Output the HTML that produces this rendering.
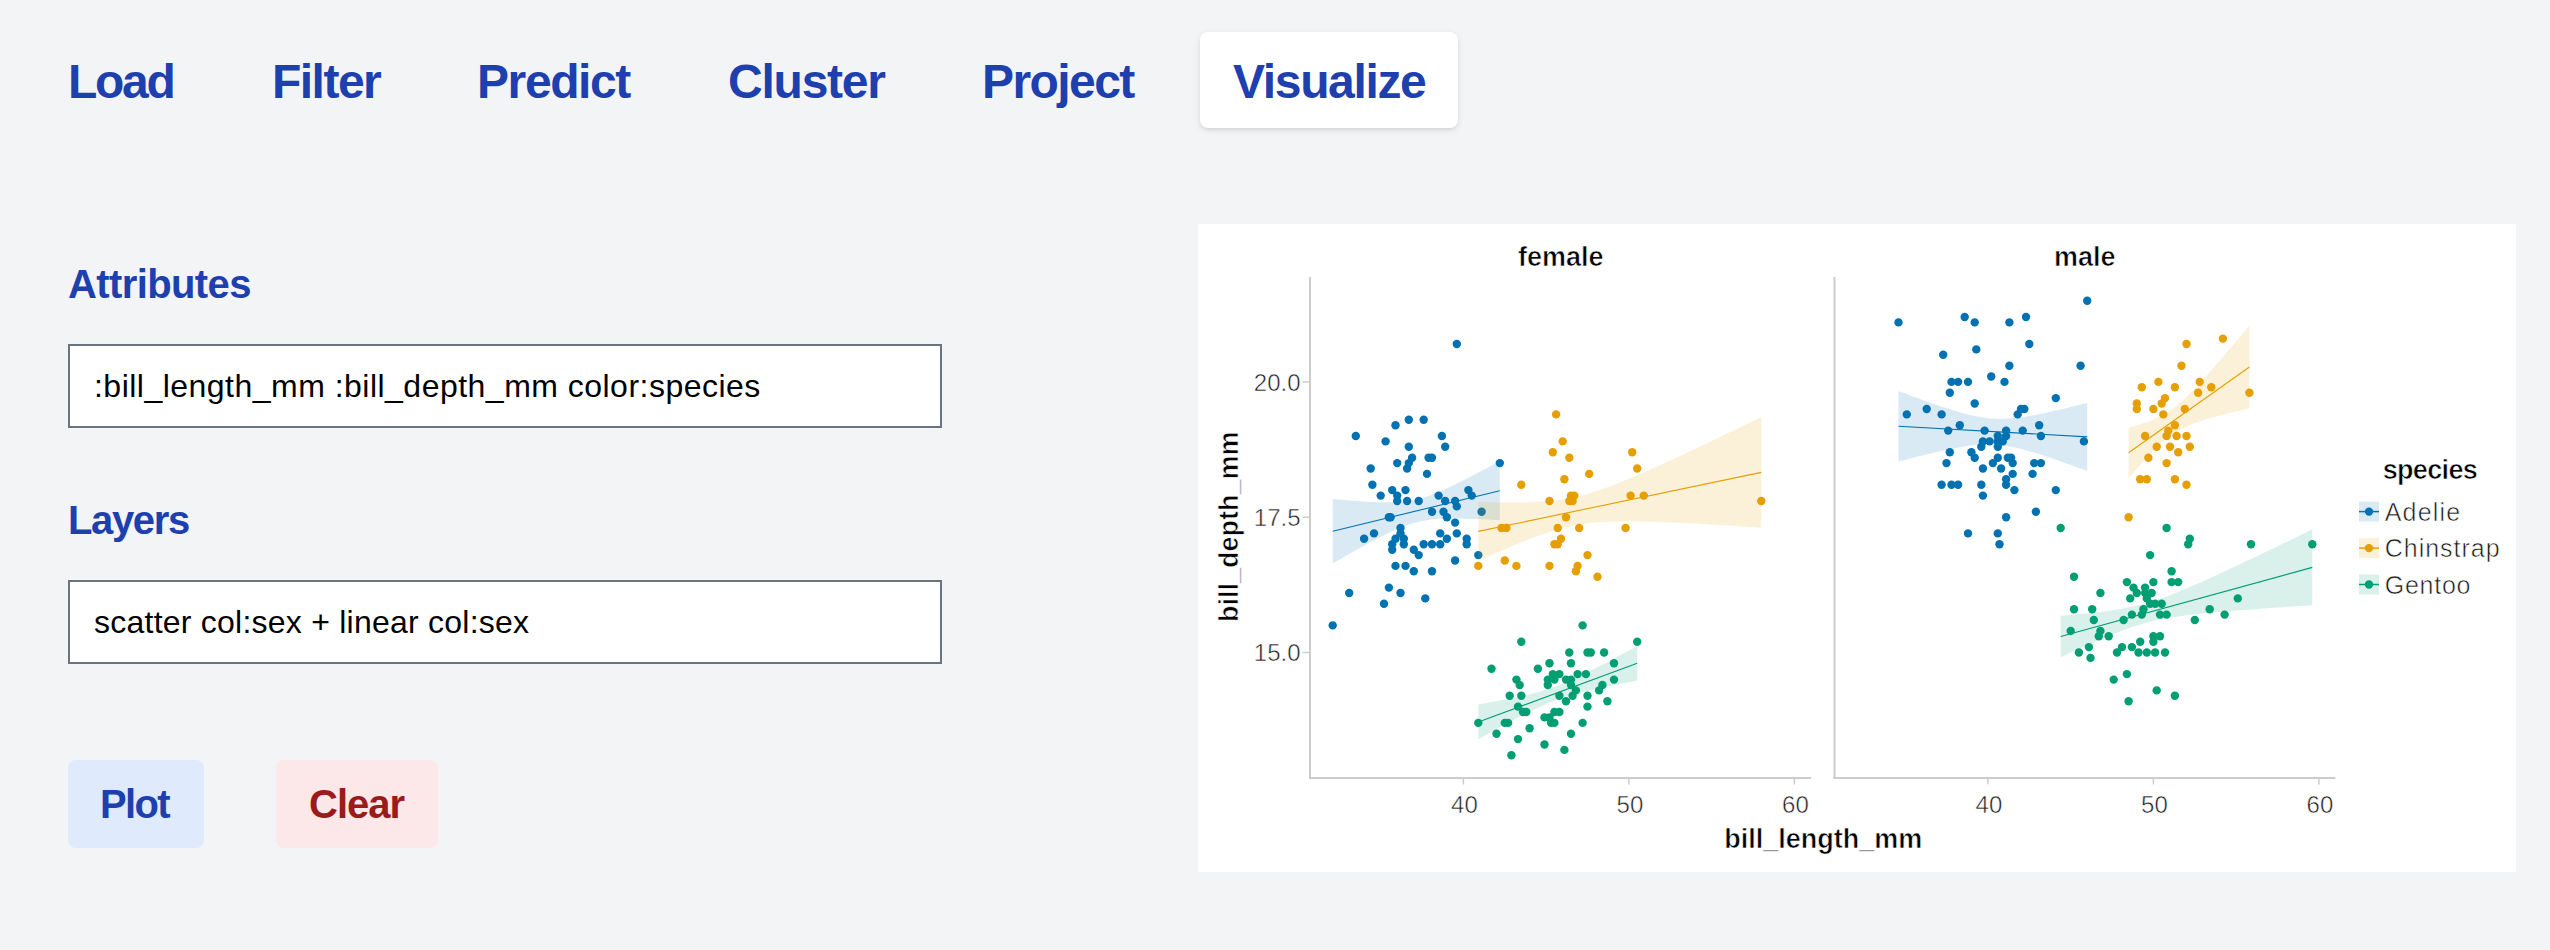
<!DOCTYPE html>
<html><head><meta charset="utf-8">
<style>
html,body{margin:0;padding:0;}
body{width:2550px;height:950px;background:#f3f4f6;position:relative;overflow:hidden;font-family:"Liberation Sans",sans-serif;}
.tab{position:absolute;top:32px;height:96px;font-weight:bold;font-size:48px;line-height:100px;color:#1e40af;white-space:nowrap;}
.tab span{position:absolute;left:0;top:0;}
.active{background:#fff;border-radius:8px;box-shadow:0 2px 6px 0 rgba(0,0,0,0.1),0 2px 4px -2px rgba(0,0,0,0.1);}
.lbl{position:absolute;font-weight:bold;font-size:40px;line-height:48px;color:#1e40af;white-space:nowrap;}
.inp{position:absolute;left:68px;width:870px;height:80px;border:2px solid #6b7280;background:#fff;}
.inp span{position:absolute;left:26px;top:0;font-size:32px;line-height:80px;color:#000;white-space:nowrap;}
.btn{position:absolute;top:760px;height:88px;border-radius:8px;font-weight:bold;font-size:40px;line-height:88px;white-space:nowrap;}
.btn span{position:absolute;top:0;}
#chart{position:absolute;left:1198px;top:224px;width:1318px;height:648px;background:#fff;}
</style></head><body>
<div class="tab" style="left:36px;width:172px"><span style="left:32px;letter-spacing:-2.27px">Load</span></div>
<div class="tab" style="left:240px;width:172px"><span style="left:32px;letter-spacing:-1.52px">Filter</span></div>
<div class="tab" style="left:445px;width:220px"><span style="left:32px;letter-spacing:-1.4px">Predict</span></div>
<div class="tab" style="left:696px;width:220px"><span style="left:32px;letter-spacing:-1.23px">Cluster</span></div>
<div class="tab" style="left:950px;width:220px"><span style="left:32px;letter-spacing:-1.58px">Project</span></div>
<div class="tab active" style="left:1200px;width:258px"><span style="left:33px;letter-spacing:-1.35px">Visualize</span></div>

<div class="lbl" style="left:68px;top:260px;letter-spacing:-0.6px">Attributes</div>
<div class="inp" style="top:344px"><span style="left:24px;letter-spacing:0.48px">:bill_length_mm :bill_depth_mm color:species</span></div>
<div class="lbl" style="left:68px;top:496px;letter-spacing:-1.36px">Layers</div>
<div class="inp" style="top:580px"><span style="left:24px;letter-spacing:0.235px">scatter col:sex + linear col:sex</span></div>

<div class="btn" style="left:68px;width:136px;background:#dfebfc;color:#1e40af"><span style="left:32px;letter-spacing:-1.67px">Plot</span></div>
<div class="btn" style="left:276px;width:162px;background:#fce8e8;color:#991b1b"><span style="left:33px;letter-spacing:-0.97px">Clear</span></div>

<div id="chart"><svg id="plot" width="1318" height="648" viewBox="1198 224 1318 648">
<style>.tk{font-family:"Liberation Sans",sans-serif;font-size:24px;fill:#222;stroke:#fff;stroke-width:0.5px}.ti{font-family:"Liberation Sans",sans-serif;font-size:27px;font-weight:bold;fill:#000;stroke:#fff;stroke-width:0.6px}.lg{font-family:"Liberation Sans",sans-serif;font-size:25px;fill:#1a1a1a;stroke:#fff;stroke-width:0.55px}</style>
<line x1="1310" y1="277" x2="1310" y2="778.9" stroke="#cccccc" stroke-width="2"/>
<line x1="1309" y1="777.9" x2="1811" y2="777.9" stroke="#cccccc" stroke-width="2"/>
<line x1="1834.5" y1="277" x2="1834.5" y2="778.9" stroke="#cccccc" stroke-width="2"/>
<line x1="1833.5" y1="777.9" x2="2335.3" y2="777.9" stroke="#cccccc" stroke-width="2"/>
<line x1="1302.5" y1="381.9" x2="1310" y2="381.9" stroke="#cccccc" stroke-width="1.5"/>
<text x="1300.5" y="390.7" text-anchor="end" class="tk">20.0</text>
<line x1="1302.5" y1="517.2" x2="1310" y2="517.2" stroke="#cccccc" stroke-width="1.5"/>
<text x="1300.5" y="526.0" text-anchor="end" class="tk">17.5</text>
<line x1="1302.5" y1="652.5" x2="1310" y2="652.5" stroke="#cccccc" stroke-width="1.5"/>
<text x="1300.5" y="661.3" text-anchor="end" class="tk">15.0</text>
<line x1="1463.4" y1="778" x2="1463.4" y2="784.5" stroke="#cccccc" stroke-width="1.5"/>
<text x="1464.4" y="812.8" text-anchor="middle" class="tk">40</text>
<line x1="1628.9" y1="778" x2="1628.9" y2="784.5" stroke="#cccccc" stroke-width="1.5"/>
<text x="1629.9" y="812.8" text-anchor="middle" class="tk">50</text>
<line x1="1794.4" y1="778" x2="1794.4" y2="784.5" stroke="#cccccc" stroke-width="1.5"/>
<text x="1795.4" y="812.8" text-anchor="middle" class="tk">60</text>
<line x1="1987.9" y1="778" x2="1987.9" y2="784.5" stroke="#cccccc" stroke-width="1.5"/>
<text x="1988.9" y="812.8" text-anchor="middle" class="tk">40</text>
<line x1="2153.4" y1="778" x2="2153.4" y2="784.5" stroke="#cccccc" stroke-width="1.5"/>
<text x="2154.4" y="812.8" text-anchor="middle" class="tk">50</text>
<line x1="2318.9" y1="778" x2="2318.9" y2="784.5" stroke="#cccccc" stroke-width="1.5"/>
<text x="2319.9" y="812.8" text-anchor="middle" class="tk">60</text>
<text x="1560.7" y="265.6" text-anchor="middle" class="ti">female</text>
<text x="2084.8" y="265.7" text-anchor="middle" class="ti">male</text>
<text x="1823.2" y="848" text-anchor="middle" class="ti">bill_length_mm</text>
<text transform="translate(1238,526.8) rotate(-90)" x="0" y="0" text-anchor="middle" class="ti">bill_depth_mm</text>
<text x="2429.9" y="478.5" text-anchor="middle" class="ti" letter-spacing="-0.65">species</text>
<rect x="2359" y="501.6" width="20" height="20" fill="#0072b2" fill-opacity="0.15"/>
<line x1="2359" y1="511.6" x2="2379" y2="511.6" stroke="#0072b2" stroke-width="1.5"/>
<circle cx="2369" cy="511.6" r="4.2" fill="#0072b2"/>
<text x="2384.7" y="520.6" class="lg" letter-spacing="1.2">Adelie</text>
<rect x="2359" y="538.1" width="20" height="20" fill="#e69f00" fill-opacity="0.15"/>
<line x1="2359" y1="548.1" x2="2379" y2="548.1" stroke="#e69f00" stroke-width="1.5"/>
<circle cx="2369" cy="548.1" r="4.2" fill="#e69f00"/>
<text x="2384.7" y="557.1" class="lg" letter-spacing="1.0">Chinstrap</text>
<rect x="2359" y="574.5" width="20" height="20" fill="#009e73" fill-opacity="0.15"/>
<line x1="2359" y1="584.5" x2="2379" y2="584.5" stroke="#009e73" stroke-width="1.5"/>
<circle cx="2369" cy="584.5" r="4.2" fill="#009e73"/>
<text x="2384.7" y="593.5" class="lg" letter-spacing="0.75">Gentoo</text>
<circle cx="1456.8" cy="344.0" r="4.2" fill="#0072b2"/>
<circle cx="1355.8" cy="436.0" r="4.2" fill="#0072b2"/>
<circle cx="1385.6" cy="441.4" r="4.2" fill="#0072b2"/>
<circle cx="1395.5" cy="425.2" r="4.2" fill="#0072b2"/>
<circle cx="1408.8" cy="419.8" r="4.2" fill="#0072b2"/>
<circle cx="1423.7" cy="419.8" r="4.2" fill="#0072b2"/>
<circle cx="1441.9" cy="436.0" r="4.2" fill="#0072b2"/>
<circle cx="1445.2" cy="446.8" r="4.2" fill="#0072b2"/>
<circle cx="1408.8" cy="446.8" r="4.2" fill="#0072b2"/>
<circle cx="1412.1" cy="457.7" r="4.2" fill="#0072b2"/>
<circle cx="1408.8" cy="463.1" r="4.2" fill="#0072b2"/>
<circle cx="1407.1" cy="468.5" r="4.2" fill="#0072b2"/>
<circle cx="1397.2" cy="463.1" r="4.2" fill="#0072b2"/>
<circle cx="1428.6" cy="457.7" r="4.2" fill="#0072b2"/>
<circle cx="1432.0" cy="457.7" r="4.2" fill="#0072b2"/>
<circle cx="1370.7" cy="468.5" r="4.2" fill="#0072b2"/>
<circle cx="1427.0" cy="473.9" r="4.2" fill="#0072b2"/>
<circle cx="1499.8" cy="463.1" r="4.2" fill="#0072b2"/>
<circle cx="1372.4" cy="484.7" r="4.2" fill="#0072b2"/>
<circle cx="1392.2" cy="490.1" r="4.2" fill="#0072b2"/>
<circle cx="1405.5" cy="490.1" r="4.2" fill="#0072b2"/>
<circle cx="1380.7" cy="495.6" r="4.2" fill="#0072b2"/>
<circle cx="1397.2" cy="495.6" r="4.2" fill="#0072b2"/>
<circle cx="1397.2" cy="501.0" r="4.2" fill="#0072b2"/>
<circle cx="1407.1" cy="501.0" r="4.2" fill="#0072b2"/>
<circle cx="1418.7" cy="501.0" r="4.2" fill="#0072b2"/>
<circle cx="1438.6" cy="495.6" r="4.2" fill="#0072b2"/>
<circle cx="1445.2" cy="501.0" r="4.2" fill="#0072b2"/>
<circle cx="1455.1" cy="501.0" r="4.2" fill="#0072b2"/>
<circle cx="1468.4" cy="490.1" r="4.2" fill="#0072b2"/>
<circle cx="1471.7" cy="495.6" r="4.2" fill="#0072b2"/>
<circle cx="1456.8" cy="506.4" r="4.2" fill="#0072b2"/>
<circle cx="1432.0" cy="511.8" r="4.2" fill="#0072b2"/>
<circle cx="1443.5" cy="511.8" r="4.2" fill="#0072b2"/>
<circle cx="1446.9" cy="517.2" r="4.2" fill="#0072b2"/>
<circle cx="1481.6" cy="511.8" r="4.2" fill="#0072b2"/>
<circle cx="1388.9" cy="517.2" r="4.2" fill="#0072b2"/>
<circle cx="1390.6" cy="517.2" r="4.2" fill="#0072b2"/>
<circle cx="1455.1" cy="522.6" r="4.2" fill="#0072b2"/>
<circle cx="1400.5" cy="528.0" r="4.2" fill="#0072b2"/>
<circle cx="1400.5" cy="533.4" r="4.2" fill="#0072b2"/>
<circle cx="1374.0" cy="533.4" r="4.2" fill="#0072b2"/>
<circle cx="1364.1" cy="538.8" r="4.2" fill="#0072b2"/>
<circle cx="1395.5" cy="538.8" r="4.2" fill="#0072b2"/>
<circle cx="1403.8" cy="538.8" r="4.2" fill="#0072b2"/>
<circle cx="1392.2" cy="544.3" r="4.2" fill="#0072b2"/>
<circle cx="1403.8" cy="544.3" r="4.2" fill="#0072b2"/>
<circle cx="1392.2" cy="549.7" r="4.2" fill="#0072b2"/>
<circle cx="1413.8" cy="549.7" r="4.2" fill="#0072b2"/>
<circle cx="1418.7" cy="555.1" r="4.2" fill="#0072b2"/>
<circle cx="1423.7" cy="544.3" r="4.2" fill="#0072b2"/>
<circle cx="1432.0" cy="544.3" r="4.2" fill="#0072b2"/>
<circle cx="1440.2" cy="544.3" r="4.2" fill="#0072b2"/>
<circle cx="1440.2" cy="533.4" r="4.2" fill="#0072b2"/>
<circle cx="1446.9" cy="538.8" r="4.2" fill="#0072b2"/>
<circle cx="1456.8" cy="533.4" r="4.2" fill="#0072b2"/>
<circle cx="1466.7" cy="538.8" r="4.2" fill="#0072b2"/>
<circle cx="1466.7" cy="544.3" r="4.2" fill="#0072b2"/>
<circle cx="1478.3" cy="555.1" r="4.2" fill="#0072b2"/>
<circle cx="1455.1" cy="560.5" r="4.2" fill="#0072b2"/>
<circle cx="1395.5" cy="565.9" r="4.2" fill="#0072b2"/>
<circle cx="1405.5" cy="565.9" r="4.2" fill="#0072b2"/>
<circle cx="1413.8" cy="571.3" r="4.2" fill="#0072b2"/>
<circle cx="1432.0" cy="571.3" r="4.2" fill="#0072b2"/>
<circle cx="1388.9" cy="587.6" r="4.2" fill="#0072b2"/>
<circle cx="1349.2" cy="593.0" r="4.2" fill="#0072b2"/>
<circle cx="1400.5" cy="593.0" r="4.2" fill="#0072b2"/>
<circle cx="1384.0" cy="603.8" r="4.2" fill="#0072b2"/>
<circle cx="1425.3" cy="598.4" r="4.2" fill="#0072b2"/>
<circle cx="1332.7" cy="625.4" r="4.2" fill="#0072b2"/>
<circle cx="1556.1" cy="414.4" r="4.2" fill="#e69f00"/>
<circle cx="1562.7" cy="441.4" r="4.2" fill="#e69f00"/>
<circle cx="1552.8" cy="452.3" r="4.2" fill="#e69f00"/>
<circle cx="1569.3" cy="457.7" r="4.2" fill="#e69f00"/>
<circle cx="1632.2" cy="452.3" r="4.2" fill="#e69f00"/>
<circle cx="1637.2" cy="468.5" r="4.2" fill="#e69f00"/>
<circle cx="1589.2" cy="473.9" r="4.2" fill="#e69f00"/>
<circle cx="1564.4" cy="479.3" r="4.2" fill="#e69f00"/>
<circle cx="1521.3" cy="484.7" r="4.2" fill="#e69f00"/>
<circle cx="1571.0" cy="495.6" r="4.2" fill="#e69f00"/>
<circle cx="1574.3" cy="495.6" r="4.2" fill="#e69f00"/>
<circle cx="1549.5" cy="501.0" r="4.2" fill="#e69f00"/>
<circle cx="1569.3" cy="501.0" r="4.2" fill="#e69f00"/>
<circle cx="1572.6" cy="501.0" r="4.2" fill="#e69f00"/>
<circle cx="1630.6" cy="495.6" r="4.2" fill="#e69f00"/>
<circle cx="1643.8" cy="495.6" r="4.2" fill="#e69f00"/>
<circle cx="1761.3" cy="501.0" r="4.2" fill="#e69f00"/>
<circle cx="1566.0" cy="517.2" r="4.2" fill="#e69f00"/>
<circle cx="1501.5" cy="528.0" r="4.2" fill="#e69f00"/>
<circle cx="1506.4" cy="528.0" r="4.2" fill="#e69f00"/>
<circle cx="1557.7" cy="528.0" r="4.2" fill="#e69f00"/>
<circle cx="1579.2" cy="528.0" r="4.2" fill="#e69f00"/>
<circle cx="1625.6" cy="528.0" r="4.2" fill="#e69f00"/>
<circle cx="1561.0" cy="538.8" r="4.2" fill="#e69f00"/>
<circle cx="1554.4" cy="544.3" r="4.2" fill="#e69f00"/>
<circle cx="1557.7" cy="544.3" r="4.2" fill="#e69f00"/>
<circle cx="1587.5" cy="555.1" r="4.2" fill="#e69f00"/>
<circle cx="1504.8" cy="560.5" r="4.2" fill="#e69f00"/>
<circle cx="1478.3" cy="565.9" r="4.2" fill="#e69f00"/>
<circle cx="1516.4" cy="565.9" r="4.2" fill="#e69f00"/>
<circle cx="1549.5" cy="565.9" r="4.2" fill="#e69f00"/>
<circle cx="1577.6" cy="565.9" r="4.2" fill="#e69f00"/>
<circle cx="1575.9" cy="571.3" r="4.2" fill="#e69f00"/>
<circle cx="1597.5" cy="576.7" r="4.2" fill="#e69f00"/>
<circle cx="1582.6" cy="625.4" r="4.2" fill="#009e73"/>
<circle cx="1521.3" cy="641.7" r="4.2" fill="#009e73"/>
<circle cx="1637.2" cy="641.7" r="4.2" fill="#009e73"/>
<circle cx="1569.3" cy="652.5" r="4.2" fill="#009e73"/>
<circle cx="1587.5" cy="652.5" r="4.2" fill="#009e73"/>
<circle cx="1590.8" cy="652.5" r="4.2" fill="#009e73"/>
<circle cx="1604.1" cy="652.5" r="4.2" fill="#009e73"/>
<circle cx="1491.5" cy="668.7" r="4.2" fill="#009e73"/>
<circle cx="1537.9" cy="668.7" r="4.2" fill="#009e73"/>
<circle cx="1549.5" cy="663.3" r="4.2" fill="#009e73"/>
<circle cx="1571.0" cy="663.3" r="4.2" fill="#009e73"/>
<circle cx="1614.0" cy="663.3" r="4.2" fill="#009e73"/>
<circle cx="1552.8" cy="674.1" r="4.2" fill="#009e73"/>
<circle cx="1559.4" cy="674.1" r="4.2" fill="#009e73"/>
<circle cx="1577.6" cy="674.1" r="4.2" fill="#009e73"/>
<circle cx="1585.9" cy="674.1" r="4.2" fill="#009e73"/>
<circle cx="1516.4" cy="679.6" r="4.2" fill="#009e73"/>
<circle cx="1547.8" cy="679.6" r="4.2" fill="#009e73"/>
<circle cx="1554.4" cy="679.6" r="4.2" fill="#009e73"/>
<circle cx="1566.0" cy="679.6" r="4.2" fill="#009e73"/>
<circle cx="1571.0" cy="679.6" r="4.2" fill="#009e73"/>
<circle cx="1614.0" cy="679.6" r="4.2" fill="#009e73"/>
<circle cx="1519.7" cy="685.0" r="4.2" fill="#009e73"/>
<circle cx="1547.8" cy="685.0" r="4.2" fill="#009e73"/>
<circle cx="1571.0" cy="685.0" r="4.2" fill="#009e73"/>
<circle cx="1602.4" cy="685.0" r="4.2" fill="#009e73"/>
<circle cx="1575.9" cy="690.4" r="4.2" fill="#009e73"/>
<circle cx="1599.1" cy="690.4" r="4.2" fill="#009e73"/>
<circle cx="1509.7" cy="695.8" r="4.2" fill="#009e73"/>
<circle cx="1521.3" cy="695.8" r="4.2" fill="#009e73"/>
<circle cx="1559.4" cy="695.8" r="4.2" fill="#009e73"/>
<circle cx="1572.6" cy="695.8" r="4.2" fill="#009e73"/>
<circle cx="1587.5" cy="695.8" r="4.2" fill="#009e73"/>
<circle cx="1566.0" cy="701.2" r="4.2" fill="#009e73"/>
<circle cx="1607.4" cy="701.2" r="4.2" fill="#009e73"/>
<circle cx="1518.0" cy="706.6" r="4.2" fill="#009e73"/>
<circle cx="1587.5" cy="706.6" r="4.2" fill="#009e73"/>
<circle cx="1523.0" cy="712.0" r="4.2" fill="#009e73"/>
<circle cx="1526.3" cy="712.0" r="4.2" fill="#009e73"/>
<circle cx="1554.4" cy="712.0" r="4.2" fill="#009e73"/>
<circle cx="1559.4" cy="712.0" r="4.2" fill="#009e73"/>
<circle cx="1544.5" cy="717.4" r="4.2" fill="#009e73"/>
<circle cx="1549.5" cy="717.4" r="4.2" fill="#009e73"/>
<circle cx="1478.3" cy="722.9" r="4.2" fill="#009e73"/>
<circle cx="1504.8" cy="722.9" r="4.2" fill="#009e73"/>
<circle cx="1508.1" cy="722.9" r="4.2" fill="#009e73"/>
<circle cx="1551.1" cy="722.9" r="4.2" fill="#009e73"/>
<circle cx="1554.4" cy="722.9" r="4.2" fill="#009e73"/>
<circle cx="1582.6" cy="722.9" r="4.2" fill="#009e73"/>
<circle cx="1529.6" cy="728.3" r="4.2" fill="#009e73"/>
<circle cx="1496.5" cy="733.7" r="4.2" fill="#009e73"/>
<circle cx="1571.0" cy="733.7" r="4.2" fill="#009e73"/>
<circle cx="1518.0" cy="739.1" r="4.2" fill="#009e73"/>
<circle cx="1544.5" cy="744.5" r="4.2" fill="#009e73"/>
<circle cx="1564.4" cy="749.9" r="4.2" fill="#009e73"/>
<circle cx="1511.4" cy="755.3" r="4.2" fill="#009e73"/>
<circle cx="2087.2" cy="300.7" r="4.2" fill="#0072b2"/>
<circle cx="1898.5" cy="322.4" r="4.2" fill="#0072b2"/>
<circle cx="1964.7" cy="317.0" r="4.2" fill="#0072b2"/>
<circle cx="1974.7" cy="322.4" r="4.2" fill="#0072b2"/>
<circle cx="2009.4" cy="322.4" r="4.2" fill="#0072b2"/>
<circle cx="2026.0" cy="317.0" r="4.2" fill="#0072b2"/>
<circle cx="2029.3" cy="344.0" r="4.2" fill="#0072b2"/>
<circle cx="1976.3" cy="349.4" r="4.2" fill="#0072b2"/>
<circle cx="1943.2" cy="354.8" r="4.2" fill="#0072b2"/>
<circle cx="2009.4" cy="365.7" r="4.2" fill="#0072b2"/>
<circle cx="2080.6" cy="365.7" r="4.2" fill="#0072b2"/>
<circle cx="1991.2" cy="376.5" r="4.2" fill="#0072b2"/>
<circle cx="1951.5" cy="381.9" r="4.2" fill="#0072b2"/>
<circle cx="1958.1" cy="381.9" r="4.2" fill="#0072b2"/>
<circle cx="1968.0" cy="381.9" r="4.2" fill="#0072b2"/>
<circle cx="2004.5" cy="381.9" r="4.2" fill="#0072b2"/>
<circle cx="1949.8" cy="392.7" r="4.2" fill="#0072b2"/>
<circle cx="2055.8" cy="398.1" r="4.2" fill="#0072b2"/>
<circle cx="1974.7" cy="403.5" r="4.2" fill="#0072b2"/>
<circle cx="1926.7" cy="409.0" r="4.2" fill="#0072b2"/>
<circle cx="2021.0" cy="409.0" r="4.2" fill="#0072b2"/>
<circle cx="2024.3" cy="409.0" r="4.2" fill="#0072b2"/>
<circle cx="2017.7" cy="414.4" r="4.2" fill="#0072b2"/>
<circle cx="1906.8" cy="414.4" r="4.2" fill="#0072b2"/>
<circle cx="1941.6" cy="414.4" r="4.2" fill="#0072b2"/>
<circle cx="1959.8" cy="425.2" r="4.2" fill="#0072b2"/>
<circle cx="2039.2" cy="425.2" r="4.2" fill="#0072b2"/>
<circle cx="1948.2" cy="430.6" r="4.2" fill="#0072b2"/>
<circle cx="1984.6" cy="430.6" r="4.2" fill="#0072b2"/>
<circle cx="2006.1" cy="430.6" r="4.2" fill="#0072b2"/>
<circle cx="2022.7" cy="430.6" r="4.2" fill="#0072b2"/>
<circle cx="2006.1" cy="436.0" r="4.2" fill="#0072b2"/>
<circle cx="2040.9" cy="436.0" r="4.2" fill="#0072b2"/>
<circle cx="1997.8" cy="436.0" r="4.2" fill="#0072b2"/>
<circle cx="2083.9" cy="441.4" r="4.2" fill="#0072b2"/>
<circle cx="1982.9" cy="441.4" r="4.2" fill="#0072b2"/>
<circle cx="1989.6" cy="441.4" r="4.2" fill="#0072b2"/>
<circle cx="1997.8" cy="441.4" r="4.2" fill="#0072b2"/>
<circle cx="2002.8" cy="441.4" r="4.2" fill="#0072b2"/>
<circle cx="1981.3" cy="446.8" r="4.2" fill="#0072b2"/>
<circle cx="1997.8" cy="446.8" r="4.2" fill="#0072b2"/>
<circle cx="1949.8" cy="452.3" r="4.2" fill="#0072b2"/>
<circle cx="1971.4" cy="452.3" r="4.2" fill="#0072b2"/>
<circle cx="1974.7" cy="457.7" r="4.2" fill="#0072b2"/>
<circle cx="1997.8" cy="457.7" r="4.2" fill="#0072b2"/>
<circle cx="2007.8" cy="457.7" r="4.2" fill="#0072b2"/>
<circle cx="2011.1" cy="457.7" r="4.2" fill="#0072b2"/>
<circle cx="1946.5" cy="463.1" r="4.2" fill="#0072b2"/>
<circle cx="1992.9" cy="463.1" r="4.2" fill="#0072b2"/>
<circle cx="2012.7" cy="463.1" r="4.2" fill="#0072b2"/>
<circle cx="2034.2" cy="463.1" r="4.2" fill="#0072b2"/>
<circle cx="2040.9" cy="463.1" r="4.2" fill="#0072b2"/>
<circle cx="1982.9" cy="468.5" r="4.2" fill="#0072b2"/>
<circle cx="2001.1" cy="468.5" r="4.2" fill="#0072b2"/>
<circle cx="2012.7" cy="473.9" r="4.2" fill="#0072b2"/>
<circle cx="2032.6" cy="473.9" r="4.2" fill="#0072b2"/>
<circle cx="2006.1" cy="479.3" r="4.2" fill="#0072b2"/>
<circle cx="1941.6" cy="484.7" r="4.2" fill="#0072b2"/>
<circle cx="1951.5" cy="484.7" r="4.2" fill="#0072b2"/>
<circle cx="1958.1" cy="484.7" r="4.2" fill="#0072b2"/>
<circle cx="1981.3" cy="484.7" r="4.2" fill="#0072b2"/>
<circle cx="2006.1" cy="484.7" r="4.2" fill="#0072b2"/>
<circle cx="2014.4" cy="490.1" r="4.2" fill="#0072b2"/>
<circle cx="2055.8" cy="490.1" r="4.2" fill="#0072b2"/>
<circle cx="1982.9" cy="495.6" r="4.2" fill="#0072b2"/>
<circle cx="2035.9" cy="511.8" r="4.2" fill="#0072b2"/>
<circle cx="2006.1" cy="517.2" r="4.2" fill="#0072b2"/>
<circle cx="1968.0" cy="533.4" r="4.2" fill="#0072b2"/>
<circle cx="1997.8" cy="533.4" r="4.2" fill="#0072b2"/>
<circle cx="1999.5" cy="544.3" r="4.2" fill="#0072b2"/>
<circle cx="2222.9" cy="338.6" r="4.2" fill="#e69f00"/>
<circle cx="2186.5" cy="344.0" r="4.2" fill="#e69f00"/>
<circle cx="2181.5" cy="365.7" r="4.2" fill="#e69f00"/>
<circle cx="2158.4" cy="381.9" r="4.2" fill="#e69f00"/>
<circle cx="2199.7" cy="381.9" r="4.2" fill="#e69f00"/>
<circle cx="2141.8" cy="387.3" r="4.2" fill="#e69f00"/>
<circle cx="2174.9" cy="387.3" r="4.2" fill="#e69f00"/>
<circle cx="2211.3" cy="387.3" r="4.2" fill="#e69f00"/>
<circle cx="2249.4" cy="392.7" r="4.2" fill="#e69f00"/>
<circle cx="2198.1" cy="392.7" r="4.2" fill="#e69f00"/>
<circle cx="2165.0" cy="398.1" r="4.2" fill="#e69f00"/>
<circle cx="2136.8" cy="403.5" r="4.2" fill="#e69f00"/>
<circle cx="2161.7" cy="403.5" r="4.2" fill="#e69f00"/>
<circle cx="2136.8" cy="409.0" r="4.2" fill="#e69f00"/>
<circle cx="2153.4" cy="409.0" r="4.2" fill="#e69f00"/>
<circle cx="2184.8" cy="409.0" r="4.2" fill="#e69f00"/>
<circle cx="2163.3" cy="414.4" r="4.2" fill="#e69f00"/>
<circle cx="2174.9" cy="425.2" r="4.2" fill="#e69f00"/>
<circle cx="2168.3" cy="430.6" r="4.2" fill="#e69f00"/>
<circle cx="2145.1" cy="436.0" r="4.2" fill="#e69f00"/>
<circle cx="2166.6" cy="436.0" r="4.2" fill="#e69f00"/>
<circle cx="2176.6" cy="436.0" r="4.2" fill="#e69f00"/>
<circle cx="2186.5" cy="436.0" r="4.2" fill="#e69f00"/>
<circle cx="2156.7" cy="446.8" r="4.2" fill="#e69f00"/>
<circle cx="2170.0" cy="446.8" r="4.2" fill="#e69f00"/>
<circle cx="2189.8" cy="446.8" r="4.2" fill="#e69f00"/>
<circle cx="2178.2" cy="452.3" r="4.2" fill="#e69f00"/>
<circle cx="2148.4" cy="457.7" r="4.2" fill="#e69f00"/>
<circle cx="2166.6" cy="463.1" r="4.2" fill="#e69f00"/>
<circle cx="2140.2" cy="479.3" r="4.2" fill="#e69f00"/>
<circle cx="2146.8" cy="479.3" r="4.2" fill="#e69f00"/>
<circle cx="2174.9" cy="479.3" r="4.2" fill="#e69f00"/>
<circle cx="2186.5" cy="484.7" r="4.2" fill="#e69f00"/>
<circle cx="2128.6" cy="517.2" r="4.2" fill="#e69f00"/>
<circle cx="2060.7" cy="528.0" r="4.2" fill="#009e73"/>
<circle cx="2166.6" cy="528.0" r="4.2" fill="#009e73"/>
<circle cx="2189.8" cy="538.8" r="4.2" fill="#009e73"/>
<circle cx="2188.2" cy="544.3" r="4.2" fill="#009e73"/>
<circle cx="2251.0" cy="544.3" r="4.2" fill="#009e73"/>
<circle cx="2312.3" cy="544.3" r="4.2" fill="#009e73"/>
<circle cx="2150.1" cy="555.1" r="4.2" fill="#009e73"/>
<circle cx="2171.6" cy="571.3" r="4.2" fill="#009e73"/>
<circle cx="2074.0" cy="576.7" r="4.2" fill="#009e73"/>
<circle cx="2126.9" cy="582.1" r="4.2" fill="#009e73"/>
<circle cx="2153.4" cy="582.1" r="4.2" fill="#009e73"/>
<circle cx="2171.6" cy="582.1" r="4.2" fill="#009e73"/>
<circle cx="2178.2" cy="582.1" r="4.2" fill="#009e73"/>
<circle cx="2133.5" cy="587.6" r="4.2" fill="#009e73"/>
<circle cx="2145.1" cy="587.6" r="4.2" fill="#009e73"/>
<circle cx="2100.4" cy="593.0" r="4.2" fill="#009e73"/>
<circle cx="2136.8" cy="593.0" r="4.2" fill="#009e73"/>
<circle cx="2145.1" cy="593.0" r="4.2" fill="#009e73"/>
<circle cx="2151.7" cy="593.0" r="4.2" fill="#009e73"/>
<circle cx="2130.2" cy="598.4" r="4.2" fill="#009e73"/>
<circle cx="2146.8" cy="598.4" r="4.2" fill="#009e73"/>
<circle cx="2237.8" cy="598.4" r="4.2" fill="#009e73"/>
<circle cx="2150.1" cy="603.8" r="4.2" fill="#009e73"/>
<circle cx="2155.1" cy="603.8" r="4.2" fill="#009e73"/>
<circle cx="2161.7" cy="603.8" r="4.2" fill="#009e73"/>
<circle cx="2074.0" cy="609.2" r="4.2" fill="#009e73"/>
<circle cx="2092.2" cy="609.2" r="4.2" fill="#009e73"/>
<circle cx="2143.5" cy="609.2" r="4.2" fill="#009e73"/>
<circle cx="2209.7" cy="609.2" r="4.2" fill="#009e73"/>
<circle cx="2131.9" cy="614.6" r="4.2" fill="#009e73"/>
<circle cx="2141.8" cy="614.6" r="4.2" fill="#009e73"/>
<circle cx="2160.0" cy="614.6" r="4.2" fill="#009e73"/>
<circle cx="2166.6" cy="614.6" r="4.2" fill="#009e73"/>
<circle cx="2224.6" cy="614.6" r="4.2" fill="#009e73"/>
<circle cx="2093.8" cy="620.0" r="4.2" fill="#009e73"/>
<circle cx="2123.6" cy="620.0" r="4.2" fill="#009e73"/>
<circle cx="2194.8" cy="620.0" r="4.2" fill="#009e73"/>
<circle cx="2070.7" cy="630.9" r="4.2" fill="#009e73"/>
<circle cx="2100.4" cy="630.9" r="4.2" fill="#009e73"/>
<circle cx="2098.8" cy="636.3" r="4.2" fill="#009e73"/>
<circle cx="2108.7" cy="636.3" r="4.2" fill="#009e73"/>
<circle cx="2153.4" cy="636.3" r="4.2" fill="#009e73"/>
<circle cx="2160.0" cy="636.3" r="4.2" fill="#009e73"/>
<circle cx="2140.2" cy="641.7" r="4.2" fill="#009e73"/>
<circle cx="2153.4" cy="641.7" r="4.2" fill="#009e73"/>
<circle cx="2088.9" cy="647.1" r="4.2" fill="#009e73"/>
<circle cx="2122.0" cy="647.1" r="4.2" fill="#009e73"/>
<circle cx="2131.9" cy="647.1" r="4.2" fill="#009e73"/>
<circle cx="2078.9" cy="652.5" r="4.2" fill="#009e73"/>
<circle cx="2117.0" cy="652.5" r="4.2" fill="#009e73"/>
<circle cx="2138.5" cy="652.5" r="4.2" fill="#009e73"/>
<circle cx="2146.8" cy="652.5" r="4.2" fill="#009e73"/>
<circle cx="2155.1" cy="652.5" r="4.2" fill="#009e73"/>
<circle cx="2165.0" cy="652.5" r="4.2" fill="#009e73"/>
<circle cx="2090.5" cy="657.9" r="4.2" fill="#009e73"/>
<circle cx="2126.9" cy="674.1" r="4.2" fill="#009e73"/>
<circle cx="2113.7" cy="679.6" r="4.2" fill="#009e73"/>
<circle cx="2156.7" cy="690.4" r="4.2" fill="#009e73"/>
<circle cx="2174.9" cy="695.8" r="4.2" fill="#009e73"/>
<circle cx="2128.6" cy="701.2" r="4.2" fill="#009e73"/>
<polygon points="1332.7,499.0 1336.9,499.4 1341.2,499.7 1345.5,500.1 1349.8,500.5 1354.1,500.8 1358.4,501.1 1362.7,501.4 1366.9,501.7 1371.2,501.9 1375.5,502.1 1379.8,502.2 1384.1,502.3 1388.4,502.3 1392.7,502.2 1396.9,502.0 1401.2,501.7 1405.5,501.3 1409.8,500.7 1414.1,499.9 1418.4,498.9 1422.7,497.8 1426.9,496.5 1431.2,495.0 1435.5,493.3 1439.8,491.6 1444.1,489.7 1448.4,487.7 1452.7,485.7 1456.9,483.6 1461.2,481.5 1465.5,479.3 1469.8,477.1 1474.1,474.8 1478.4,472.6 1482.7,470.3 1487.0,468.0 1491.2,465.7 1495.5,463.4 1499.8,461.1 1499.8,520.3 1495.5,520.0 1491.2,519.8 1487.0,519.6 1482.7,519.3 1478.4,519.1 1474.1,519.0 1469.8,518.8 1465.5,518.7 1461.2,518.6 1456.9,518.5 1452.7,518.5 1448.4,518.5 1444.1,518.6 1439.8,518.8 1435.5,519.1 1431.2,519.6 1426.9,520.2 1422.7,520.9 1418.4,521.9 1414.1,523.0 1409.8,524.3 1405.5,525.8 1401.2,527.4 1396.9,529.2 1392.7,531.1 1388.4,533.1 1384.1,535.2 1379.8,537.3 1375.5,539.5 1371.2,541.8 1366.9,544.1 1362.7,546.4 1358.4,548.8 1354.1,551.2 1349.8,553.6 1345.5,556.0 1341.2,558.5 1336.9,560.9 1332.7,563.4" fill="#0072b2" fill-opacity="0.15"/>
<polygon points="1478.3,501.9 1485.6,502.1 1492.8,502.3 1500.1,502.4 1507.3,502.5 1514.6,502.6 1521.8,502.5 1529.1,502.3 1536.3,502.1 1543.6,501.6 1550.9,501.0 1558.1,500.1 1565.4,499.0 1572.6,497.6 1579.9,495.9 1587.1,494.0 1594.4,491.8 1601.7,489.3 1608.9,486.7 1616.2,483.9 1623.4,481.0 1630.7,478.0 1637.9,474.9 1645.2,471.7 1652.5,468.5 1659.7,465.2 1667.0,461.9 1674.2,458.6 1681.5,455.2 1688.7,451.8 1696.0,448.4 1703.2,445.0 1710.5,441.5 1717.8,438.1 1725.0,434.6 1732.3,431.1 1739.5,427.6 1746.8,424.1 1754.0,420.6 1761.3,417.1 1761.3,527.7 1754.0,527.2 1746.8,526.7 1739.5,526.3 1732.3,525.8 1725.0,525.3 1717.8,524.9 1710.5,524.5 1703.2,524.0 1696.0,523.6 1688.7,523.2 1681.5,522.9 1674.2,522.5 1667.0,522.2 1659.7,521.9 1652.5,521.7 1645.2,521.5 1637.9,521.4 1630.7,521.3 1623.4,521.3 1616.2,521.4 1608.9,521.7 1601.7,522.0 1594.4,522.6 1587.1,523.4 1579.9,524.5 1572.6,525.9 1565.4,527.5 1558.1,529.4 1550.9,531.6 1543.6,534.0 1536.3,536.5 1529.1,539.3 1521.8,542.1 1514.6,545.1 1507.3,548.2 1500.1,551.3 1492.8,554.4 1485.6,557.7 1478.3,560.9" fill="#e69f00" fill-opacity="0.15"/>
<polygon points="1478.3,704.5 1482.4,703.8 1486.4,703.1 1490.5,702.3 1494.6,701.6 1498.7,700.8 1502.7,700.0 1506.8,699.2 1510.9,698.4 1515.0,697.6 1519.0,696.7 1523.1,695.8 1527.2,694.9 1531.3,693.9 1535.3,692.8 1539.4,691.7 1543.5,690.5 1547.6,689.3 1551.6,687.9 1555.7,686.5 1559.8,684.9 1563.8,683.3 1567.9,681.6 1572.0,679.8 1576.1,677.9 1580.1,675.9 1584.2,673.9 1588.3,671.9 1592.4,669.8 1596.4,667.7 1600.5,665.6 1604.6,663.5 1608.7,661.3 1612.7,659.2 1616.8,657.0 1620.9,654.8 1625.0,652.6 1629.0,650.4 1633.1,648.2 1637.2,645.9 1637.2,680.6 1633.1,681.4 1629.0,682.2 1625.0,683.0 1620.9,683.8 1616.8,684.6 1612.7,685.5 1608.7,686.3 1604.6,687.2 1600.5,688.0 1596.4,688.9 1592.4,689.8 1588.3,690.8 1584.2,691.7 1580.1,692.7 1576.1,693.8 1572.0,694.9 1567.9,696.1 1563.8,697.4 1559.8,698.8 1555.7,700.3 1551.6,701.8 1547.6,703.5 1543.5,705.2 1539.4,707.1 1535.3,709.0 1531.3,710.9 1527.2,712.9 1523.1,715.0 1519.0,717.1 1515.0,719.2 1510.9,721.4 1506.8,723.6 1502.7,725.8 1498.7,728.0 1494.6,730.3 1490.5,732.5 1486.4,734.8 1482.4,737.1 1478.3,739.4" fill="#009e73" fill-opacity="0.15"/>
<polygon points="1898.5,391.0 1903.4,392.8 1908.2,394.6 1913.0,396.4 1917.9,398.2 1922.7,399.9 1927.6,401.7 1932.4,403.4 1937.2,405.0 1942.1,406.7 1946.9,408.2 1951.7,409.8 1956.6,411.3 1961.4,412.7 1966.3,414.0 1971.1,415.2 1975.9,416.2 1980.8,417.1 1985.6,417.9 1990.4,418.4 1995.3,418.8 2000.1,418.9 2005.0,418.8 2009.8,418.6 2014.6,418.1 2019.5,417.6 2024.3,416.9 2029.1,416.1 2034.0,415.2 2038.8,414.3 2043.7,413.3 2048.5,412.2 2053.3,411.1 2058.2,410.0 2063.0,408.9 2067.8,407.7 2072.7,406.5 2077.5,405.3 2082.4,404.1 2087.2,402.9 2087.2,470.9 2082.4,469.1 2077.5,467.4 2072.7,465.6 2067.8,463.9 2063.0,462.2 2058.2,460.5 2053.3,458.8 2048.5,457.2 2043.7,455.6 2038.8,454.1 2034.0,452.6 2029.1,451.2 2024.3,449.8 2019.5,448.6 2014.6,447.5 2009.8,446.5 2005.0,445.7 2000.1,445.1 1995.3,444.7 1990.4,444.5 1985.6,444.5 1980.8,444.7 1975.9,445.1 1971.1,445.6 1966.3,446.2 1961.4,447.0 1956.6,447.9 1951.7,448.8 1946.9,449.8 1942.1,450.8 1937.2,451.9 1932.4,453.1 1927.6,454.2 1922.7,455.4 1917.9,456.6 1913.0,457.8 1908.2,459.1 1903.4,460.3 1898.5,461.6" fill="#0072b2" fill-opacity="0.15"/>
<polygon points="2128.6,427.7 2131.7,426.8 2134.8,425.9 2137.9,425.0 2141.0,424.0 2144.1,423.0 2147.2,421.9 2150.3,420.7 2153.4,419.5 2156.5,418.1 2159.6,416.6 2162.7,415.0 2165.7,413.3 2168.8,411.3 2171.9,409.2 2175.0,406.9 2178.1,404.3 2181.2,401.7 2184.3,398.8 2187.4,395.9 2190.5,392.8 2193.6,389.6 2196.7,386.3 2199.8,383.0 2202.9,379.6 2206.0,376.2 2209.1,372.7 2212.2,369.2 2215.3,365.7 2218.4,362.1 2221.5,358.5 2224.6,354.9 2227.7,351.3 2230.8,347.7 2233.9,344.0 2237.0,340.3 2240.1,336.7 2243.2,333.0 2246.3,329.3 2249.4,325.6 2249.4,408.4 2246.3,409.1 2243.2,409.8 2240.1,410.6 2237.0,411.3 2233.9,412.0 2230.8,412.8 2227.7,413.6 2224.6,414.3 2221.5,415.1 2218.4,416.0 2215.3,416.8 2212.2,417.6 2209.1,418.5 2206.0,419.5 2202.9,420.4 2199.8,421.4 2196.7,422.5 2193.6,423.6 2190.5,424.9 2187.4,426.2 2184.3,427.6 2181.2,429.2 2178.1,430.9 2175.0,432.8 2171.9,434.9 2168.8,437.1 2165.7,439.6 2162.7,442.2 2159.6,445.0 2156.5,447.9 2153.4,451.0 2150.3,454.1 2147.2,457.4 2144.1,460.7 2141.0,464.0 2137.9,467.4 2134.8,470.9 2131.7,474.4 2128.6,477.9" fill="#e69f00" fill-opacity="0.15"/>
<polygon points="2060.7,615.8 2067.2,615.2 2073.6,614.6 2080.1,614.0 2086.5,613.4 2093.0,612.7 2099.4,612.0 2105.9,611.2 2112.3,610.3 2118.8,609.2 2125.2,608.1 2131.7,606.8 2138.1,605.3 2144.6,603.6 2151.0,601.8 2157.5,599.7 2163.9,597.4 2170.4,595.0 2176.8,592.5 2183.3,589.8 2189.7,587.1 2196.2,584.3 2202.6,581.4 2209.1,578.5 2215.5,575.6 2222.0,572.6 2228.4,569.6 2234.9,566.6 2241.3,563.5 2247.8,560.5 2254.2,557.4 2260.7,554.3 2267.1,551.3 2273.6,548.2 2280.0,545.1 2286.5,541.9 2292.9,538.8 2299.4,535.7 2305.8,532.6 2312.3,529.5 2312.3,605.3 2305.8,605.7 2299.4,606.1 2292.9,606.5 2286.5,607.0 2280.0,607.4 2273.6,607.8 2267.1,608.3 2260.7,608.7 2254.2,609.2 2247.8,609.7 2241.3,610.2 2234.9,610.7 2228.4,611.2 2222.0,611.8 2215.5,612.3 2209.1,612.9 2202.6,613.6 2196.2,614.2 2189.7,615.0 2183.3,615.8 2176.8,616.7 2170.4,617.7 2163.9,618.9 2157.5,620.1 2151.0,621.6 2144.6,623.3 2138.1,625.2 2131.7,627.2 2125.2,629.5 2118.8,631.9 2112.3,634.4 2105.9,637.1 2099.4,639.8 2093.0,642.6 2086.5,645.5 2080.1,648.4 2073.6,651.3 2067.2,654.3 2060.7,657.3" fill="#009e73" fill-opacity="0.15"/>
<line x1="1332.7" y1="531.2" x2="1499.8" y2="490.7" stroke="#0072b2" stroke-width="1.1"/>
<line x1="1478.3" y1="531.4" x2="1761.3" y2="472.4" stroke="#e69f00" stroke-width="1.1"/>
<line x1="1478.3" y1="722.0" x2="1637.2" y2="663.3" stroke="#009e73" stroke-width="1.1"/>
<line x1="1898.5" y1="426.3" x2="2087.2" y2="436.9" stroke="#0072b2" stroke-width="1.1"/>
<line x1="2128.6" y1="452.8" x2="2249.4" y2="367.0" stroke="#e69f00" stroke-width="1.1"/>
<line x1="2060.7" y1="636.5" x2="2312.3" y2="567.4" stroke="#009e73" stroke-width="1.1"/>
</svg></div>
</body></html>
